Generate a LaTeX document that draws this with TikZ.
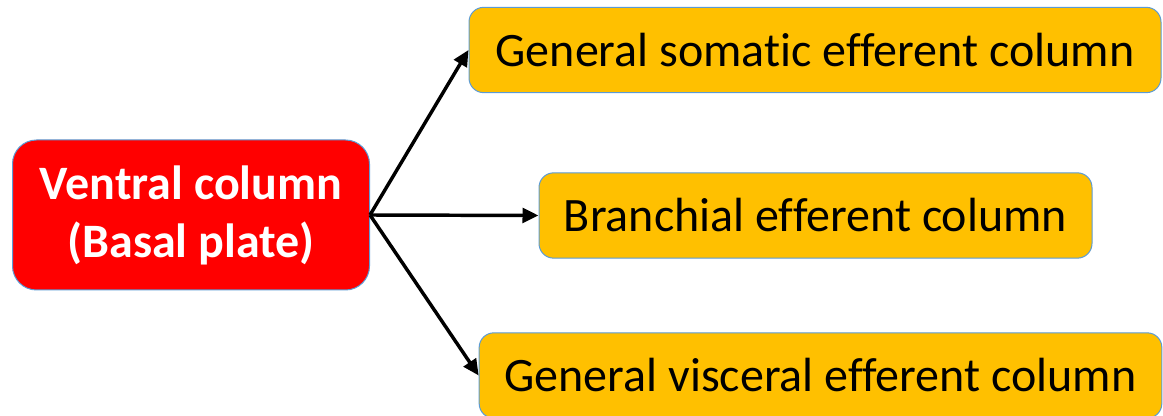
\documentclass[tikz,border=0pt]{standalone}
\usepackage{fontspec}
\setmainfont[Ligatures=NoCommon]{Carlito}
\usepackage{xcolor}
\usepackage{tikz}
\usetikzlibrary{arrows.meta}

\definecolor{boxred}{HTML}{FF0000}
\definecolor{boxgold}{HTML}{FFC000}
\definecolor{boxedge}{HTML}{5B9BD5}

\begin{document}
\begin{tikzpicture}[
    x=0.75pt,y=-0.75pt,
    src/.style={rectangle,rounded corners=18pt,draw=boxedge,line width=0.75pt,fill=boxred,text=white,align=center,
      minimum width=267.75pt,minimum height=112.5pt,inner sep=0pt,font=\fontsize{36}{43.5}\selectfont\bfseries},
    col/.style={rectangle,rounded corners=11pt,draw=boxedge,line width=0.75pt,fill=boxgold,text=black,
      minimum height=64pt,inner sep=0pt,font=\fontsize{36}{43}\selectfont},
    arr/.style={-{Triangle[length=12pt,width=11pt]},line width=2.6pt}
]
\useasboundingbox (0,0) rectangle (1163,416);

% source
\node[src] (ventral) at (191,215) {Ventral column\\(Basal plate)};

% targets
\node[col,minimum width=519pt] (gse) at (815,50) {General somatic efferent column};
\node[col,minimum width=414.75pt] (be) at (815.5,215.5) {Branchial efferent column};
\node[col,minimum width=512pt] (gve) at (820.5,375.5) {General visceral efferent column};

\draw[arr] (ventral.east) -- (gse.west);
\draw[arr] (ventral.east) -- (be.west);
\draw[arr] (ventral.east) -- (gve.west);
\end{tikzpicture}
\end{document}
